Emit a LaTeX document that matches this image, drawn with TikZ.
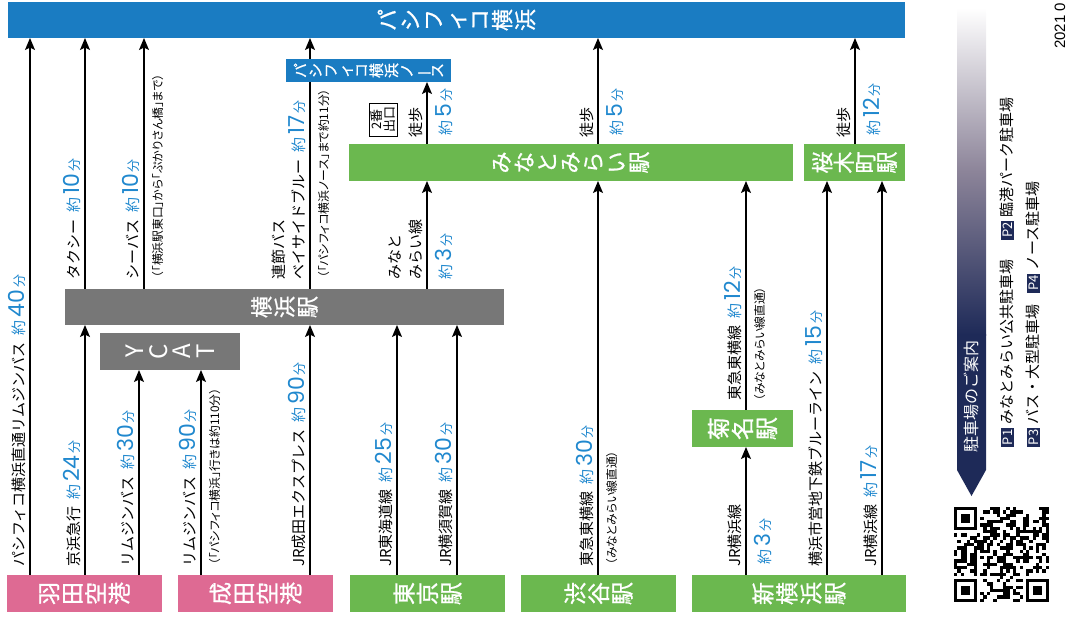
\documentclass[tikz,border=0pt]{standalone}
\usepackage{fontspec}
\setmainfont{Noto Sans CJK JP}
\newfontfamily\jpm[FakeBold=0.9]{Noto Sans CJK JP}
\newfontfamily\notef[RawFeature=+palt]{Noto Sans CJK JP}
\newfontfamily\digf{Poppins}
\newfontfamily\lib{Liberation Sans}
\usepackage{graphicx}
\usetikzlibrary{arrows.meta}
\definecolor{barblue}{HTML}{1A7CC2}
\definecolor{tblue}{HTML}{2088CE}
\definecolor{pinkc}{HTML}{DE6A93}
\definecolor{greenc}{HTML}{6BB84F}
\definecolor{grayc}{HTML}{777777}
\definecolor{navy}{HTML}{1E2A58}
\definecolor{midc}{HTML}{8C8499}
\newcommand{\yaku}[1]{{\color{tblue}\fontsize{15}{15}\selectfont 約\hspace{3pt}{\digf\fontsize{22}{22}\selectfont #1}\hspace{2pt}\fontsize{13}{13}\selectfont 分}}
\newcommand{\vbar}{\rotatebox[origin=c]{90}{ー}}
\newcommand{\pbx}[1]{{\setlength{\fboxsep}{1.8pt}\colorbox{navy}{\textcolor{white}{\fontsize{13}{13}\selectfont P#1}}}}
\pgfdeclarelayer{bg}
\pgfsetlayers{bg,main}
\begin{document}
\begin{tikzpicture}[x=1pt,y=-1pt,
  arr/.style={line width=1.3pt,-{Stealth[length=12pt,width=10pt,inset=2.5pt]}},
  bx/.style={inner sep=0pt, outer sep=0pt, draw=none},
  btxt/.style={rotate=90, inner sep=0pt, align=center, text=white, font=\jpm\fontsize{22}{23}\selectfont},
  lab/.style={rotate=90, inner sep=0pt, anchor=base west, font=\fontsize{15}{15}\selectfont},
  note/.style={rotate=90, inner sep=0pt, anchor=base west, font=\notef\fontsize{11.8}{12}\selectfont},
  legend/.style={rotate=90, inner sep=0pt, anchor=west, font=\fontsize{15}{15}\selectfont},
]
\useasboundingbox (0,0) rectangle (1068,616);

% boxes
\node[bx, fill=barblue, minimum width=897pt, minimum height=36pt] (pac) at (456.5,20) {};
\node[btxt] (pact) at (pac) {パ\\シ\\フ\\ィ\\コ\\横\\浜};
\node[bx, fill=barblue, minimum width=165pt, minimum height=23pt] (north) at (368.5,70.5) {};
\node[btxt, font=\jpm\fontsize{15}{15.2}\selectfont] (northt) at (north) {パ\\シ\\フ\\ィ\\コ\\横\\浜\\ノ\\\vbar\\ス};
\node[bx, fill=grayc, minimum width=439pt, minimum height=36pt] (yoko) at (284.5,307) {};
\node[btxt] (yokot) at (yoko) {横\\浜\\駅};
\node[bx, fill=grayc, minimum width=140pt, minimum height=37pt] (ycat) at (170,351.5) {};
\node[btxt, font=\fontsize{24}{23.5}\selectfont] (ycatt) at (ycat) {Y\\C\\A\\T};
\node[bx, fill=pinkc, minimum width=155pt, minimum height=37pt] (haneda) at (84.5,593.5) {};
\node[btxt, font=\jpm\fontsize{23}{23.5}\selectfont] (hanedat) at (haneda) {羽\\田\\空\\港};
\node[bx, fill=pinkc, minimum width=155pt, minimum height=37pt] (narita) at (255.5,593.5) {};
\node[btxt, font=\jpm\fontsize{23}{23.5}\selectfont] (naritat) at (narita) {成\\田\\空\\港};
\node[bx, fill=greenc, minimum width=155pt, minimum height=37pt] (tokyo) at (427.5,593.5) {};
\node[btxt, font=\jpm\fontsize{23}{23.5}\selectfont] (tokyot) at (tokyo) {東\\京\\駅};
\node[bx, fill=greenc, minimum width=155pt, minimum height=37pt] (shibuya) at (598.5,593.5) {};
\node[btxt, font=\jpm\fontsize{23}{23.5}\selectfont] (shibuyat) at (shibuya) {渋\\谷\\駅};
\node[bx, fill=greenc, minimum width=214pt, minimum height=37pt] (shinyoko) at (799,593.5) {};
\node[btxt, font=\jpm\fontsize{23}{24}\selectfont] (shinyokot) at (shinyoko) {新\\横\\浜\\駅};
\node[bx, fill=greenc, minimum width=101pt, minimum height=37pt] (kikuna) at (742.5,428.5) {};
\node[btxt, font=\jpm\fontsize{23}{24}\selectfont] (kikunat) at (kikuna) {菊\\名\\駅};
\node[bx, fill=greenc, minimum width=444pt, minimum height=37pt] (mm) at (571,162.5) {};
\node[btxt] (mmt) at (mm) {み\\な\\と\\み\\ら\\い\\駅};
\node[bx, fill=greenc, minimum width=101pt, minimum height=37pt] (sakura) at (854.5,162.5) {};
\node[btxt, font=\jpm\fontsize{22}{21.5}\selectfont] (sakurat) at (sakura) {桜\\木\\町\\駅};

% arrows
\begin{pgfonlayer}{bg}
\draw[arr] (30,0 |- haneda.north) -- (30,0 |- pac.south);
\draw[arr] (85,0 |- haneda.north) -- (85,0 |- yoko.south);
\draw[arr] (139,0 |- haneda.north) -- (139,0 |- ycat.south);
\draw[arr] (201,0 |- narita.north) -- (201,0 |- ycat.south);
\draw[arr] (310,0 |- narita.north) -- (310,0 |- yoko.south);
\draw[arr] (85,0 |- yoko.north) -- (85,0 |- pac.south);
\draw[arr] (144,0 |- yoko.north) -- (144,0 |- pac.south);
\draw[arr] (310,0 |- yoko.north) -- (310,0 |- pac.south);
\draw[arr] (427,0 |- yoko.north) -- (427,0 |- mm.south);
\draw[arr] (427,0 |- mm.north) -- (427,0 |- north.south);
\draw[arr] (397,0 |- tokyo.north) -- (397,0 |- yoko.south);
\draw[arr] (457,0 |- tokyo.north) -- (457,0 |- yoko.south);
\draw[arr] (598,0 |- shibuya.north) -- (598,0 |- mm.south);
\draw[arr] (598,0 |- mm.north) -- (598,0 |- pac.south);
\draw[arr] (746,0 |- shinyoko.north) -- (746,0 |- kikuna.south);
\draw[arr] (746,0 |- kikuna.north) -- (746,0 |- mm.south);
\draw[arr] (827,0 |- shinyoko.north) -- (827,0 |- sakura.south);
\draw[arr] (882,0 |- shinyoko.north) -- (882,0 |- sakura.south);
\draw[arr] (855,0 |- sakura.north) -- (855,0 |- pac.south);
\end{pgfonlayer}

% labels
\node[lab] (t1) at (24,567) {パシフィコ横浜直通リムジンバス\hspace{7pt}\yaku{40}};
\node[lab] (t2) at (79,567) {京浜急行\hspace{7pt}\yaku{24}};
\node[lab] (t3) at (133,567) {リムジンバス\hspace{7pt}\yaku{30}};
\node[lab] (t4) at (195,567) {リムジンバス\hspace{7pt}\yaku{90}};
\node[lab] (t5) at (304,567) {JR成田エクスプレス\hspace{7pt}\yaku{90}};
\node[lab] (t6) at (79,280) {タクシー\hspace{7pt}\yaku{10}};
\node[lab] (t7) at (138,280) {シーバス\hspace{7pt}\yaku{10}};
\node[lab] (t8a) at (284,280) {連節バス};
\node[lab] (t8b) at (304,280) {ベイサイドブルー\hspace{7pt}\yaku{17}};
\node[lab] (t9a) at (400,280) {みなと};
\node[lab] (t9b) at (421,280) {みらい線};
\node[lab] (t10) at (421,138) {徒歩};
\node[lab] (t11) at (592,138) {徒歩};
\node[lab] (t12) at (391,567) {JR東海道線\hspace{7pt}\yaku{25}};
\node[lab] (t13) at (451,567) {JR横須賀線\hspace{7pt}\yaku{30}};
\node[lab] (t14) at (592,567) {東急東横線\hspace{7pt}\yaku{30}};
\node[lab] (t15) at (740,401) {東急東横線\hspace{7pt}\yaku{12}};
\node[lab] (t16) at (740,567) {JR横浜線};
\node[lab] (t17) at (821,567) {横浜市営地下鉄ブルーライン\hspace{7pt}\yaku{15}};
\node[lab] (t18) at (876,567) {JR横浜線\hspace{7pt}\yaku{17}};
\node[lab] (t19) at (849,138) {徒歩};
\node[lab] (r9) at (451,280) {\yaku{3}};
\node[lab] (r10) at (451,136) {\yaku{5}};
\node[lab] (r11) at (622,136) {\yaku{5}};
\node[lab] (r16) at (770,565) {\yaku{3}};
\node[lab] (r19) at (879,136) {\yaku{12}};
\node[note] (n4) at (219,565) {（「パシフィコ横浜」行きは約110分）};
\node[note] (n7) at (162,278) {（「横浜駅東口」から「ぷかりさん橋」まで）};
\node[note] (n8) at (328,278) {（「パシフィコ横浜ノース」まで約11分）};
\node[note] (n14) at (616,565) {（みなとみらい線直通）};
\node[note] (n15) at (764,401) {（みなとみらい線直通）};
\node[rotate=90, draw, line width=0.6pt, minimum width=33pt, minimum height=28pt, inner sep=0pt, align=center, font=\fontsize{13}{13}\selectfont] (exit2) at (383,119.5) {2番\\出口};

% legend
\shade[top color=white, bottom color=navy, middle color=midc] (957,8) rectangle (986,335);
\fill[navy] (957,334) -- (986,334) -- (986,470) -- (971.5,496) -- (957,470) -- cycle;
\node[legend, text=white, font=\fontsize{16}{16}\selectfont] (lgt) at (971.5,453) {駐車場のご案内};
\node[legend] (lg1) at (1007,447) {\pbx{1}\hspace{3pt}みなとみらい公共駐車場\hspace{20pt}\pbx{2}\hspace{3pt}臨港パーク駐車場};
\node[legend] (lg2) at (1033,447) {\pbx{3}\hspace{3pt}バス・大型駐車場\hspace{12pt}\pbx{4}\hspace{3pt}ノース駐車場};
\node[rotate=90, inner sep=0pt, anchor=base west, font=\lib\fontsize{15}{15}\selectfont] (yr) at (1065,49) {2021 0};

% QR code
\begin{scope}[shift={(954,507)}]
\pgfmathsetseed{4711}
\foreach \i in {0,...,28}{
  \foreach \j in {0,...,28}{
    \pgfmathsetmacro{\rr}{rnd}
    \pgfmathtruncatemacro{\qskip}{or(and(\i<8,\j<8), or(and(\i<8,\j>20), and(\i>20,\j>20)))}
    \ifnum\qskip=0
      \ifdim\rr pt<0.5pt
        \fill (\i*3.276,\j*3.276) rectangle ++(3.3,3.3);
      \fi
    \fi
  }
}
\foreach \ox/\oy in {0/0, 0/22, 22/22}{
  \fill (\ox*3.276,\oy*3.276) rectangle ++(7*3.276,7*3.276);
  \fill[white] (\ox*3.276+3.276,\oy*3.276+3.276) rectangle ++(5*3.276,5*3.276);
  \fill (\ox*3.276+2*3.276,\oy*3.276+2*3.276) rectangle ++(3*3.276,3*3.276);
}
\end{scope}
\end{tikzpicture}
\end{document}
